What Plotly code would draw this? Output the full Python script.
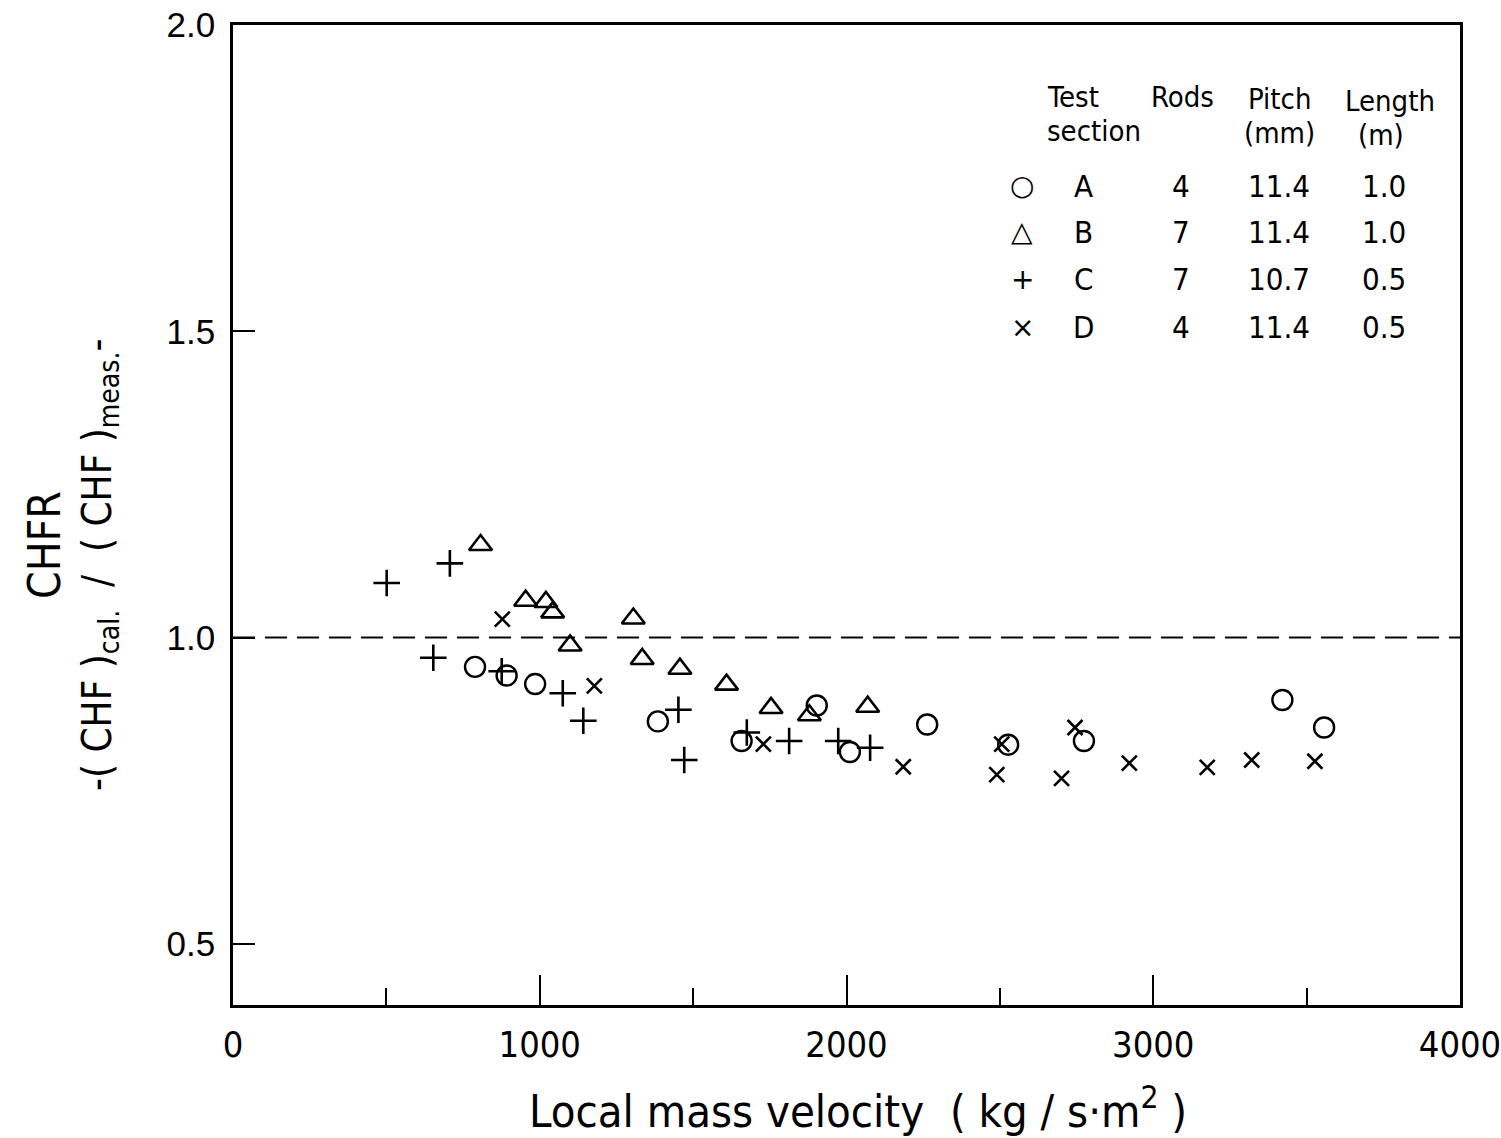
import plotly.graph_objects as go

# Local mass velocity (kg/s m^2) and CHF ratio per test section
a_mass = [789, 892, 985, 1385, 1658, 1903, 2011, 2263, 2527, 2774, 3421, 3557]
a_chfr = [0.952, 0.938, 0.924, 0.863, 0.831, 0.889, 0.813, 0.858, 0.825, 0.831, 0.898, 0.853]

b_mass = [807, 954, 1020, 1042, 1099, 1305, 1334, 1457, 1609, 1754, 1879, 2069]
b_chfr = [1.151, 1.060, 1.058, 1.041, 0.987, 1.031, 0.965, 0.949, 0.923, 0.885, 0.873, 0.887]

c_mass = [501, 707, 653, 876, 1075, 1142, 1452, 1471, 1675, 1813, 1973, 2077]
c_chfr = [1.089, 1.121, 0.967, 0.945, 0.909, 0.864, 0.882, 0.800, 0.845, 0.831, 0.831, 0.820]

d_mass = [878, 1178, 1729, 2185, 2490, 2506, 2701, 2745, 2922, 3176, 3321, 3527]
d_chfr = [1.030, 0.921, 0.826, 0.789, 0.776, 0.826, 0.770, 0.853, 0.795, 0.788, 0.800, 0.798]

ref_mass = [0, 4000]
ref_chfr = [1.0, 1.0]

# Key table
key_symbols = ["○", "△", "+", "×"]
key_sections = ["A", "B", "C", "D"]
key_rods = ["4", "7", "7", "4"]
key_pitch = ["11.4", "11.4", "10.7", "11.4"]
key_length = ["1.0", "1.0", "0.5", "0.5"]

NARROW = "DejaVu Sans Condensed, Liberation Sans Narrow, Roboto Condensed, Liberation Sans, sans-serif"
PLAIN = "Liberation Sans, Arial, sans-serif"
INK = "black"

fig = go.Figure()

fig.add_trace(go.Scatter(
    x=ref_mass, y=ref_chfr, mode="lines",
    line=dict(color=INK, width=2.2, dash="22px,10px"),
    showlegend=False, hoverinfo="skip"))

series = [
    (a_mass, a_chfr, "circle-open", 20, 2.4),
    (b_mass, b_chfr, "triangle-up-open", 20, 2.6),
    (c_mass, c_chfr, "cross-thin-open", 19, 2.6),
    (d_mass, d_chfr, "x-thin-open", 15, 2.6),
]
for xs, ys, sym, size, lw in series:
    fig.add_trace(go.Scatter(
        x=xs, y=ys, mode="markers",
        marker=dict(symbol=sym, size=size, color=INK,
                    line=dict(color=INK, width=lw)),
        showlegend=False))

annotations = []

def txt(x, y, s, size=30, xanchor="center", font=NARROW, angle=0):
    annotations.append(dict(
        x=x, y=y, xref="paper", yref="paper", text=s, showarrow=False,
        xanchor=xanchor, yanchor="middle", textangle=angle,
        font=dict(family=font, size=size, color=INK)))

# convert page pixels to paper fractions of the plot area
L, R, T, B = 233, 1460, 25, 1005
def px(xp):
    return (xp - L) / (R - L)
def py(yp):
    return (B - yp) / (B - T)

# key header
txt(px(1045), py(97), "Test", xanchor="left", size=29)
txt(px(1045), py(131), "section", xanchor="left", size=29)
txt(px(1182), py(97), "Rods", size=29)
txt(px(1279), py(99), "Pitch", size=29)
txt(px(1279), py(133), "(mm)", size=29)
txt(px(1390), py(101), "Length", size=29)
txt(px(1381), py(135), "(m)", size=29)

row_y = [186, 232, 279, 327]
for i in range(4):
    txt(px(1022), py(row_y[i]), key_symbols[i], size=28, font="DejaVu Sans")
    txt(px(1083), py(row_y[i]), key_sections[i], size=31)
    txt(px(1181), py(row_y[i]), key_rods[i], size=31)
    txt(px(1279), py(row_y[i]), key_pitch[i], size=31)
    txt(px(1384), py(row_y[i]), key_length[i], size=31)

# axis titles
txt(px(45), py(545), "CHFR", size=44, angle=-90)
txt(px(100), py(565),
    "-( CHF )<sub>cal.</sub>  /  ( CHF )<sub>meas.</sub>-", size=40, angle=-90)
txt(px(858), py(1108),
    "Local mass velocity  ( kg / s·m<sup>2</sup> )", size=45)

fig.update_layout(
    width=1501, height=1138,
    margin=dict(l=L, r=1501 - R, t=T, b=1138 - B, autoexpand=False),
    paper_bgcolor="white", plot_bgcolor="white",
    annotations=annotations,
    xaxis=dict(
        range=[0, 4000], tickvals=[0, 1000, 2000, 3000, 4000],
        ticks="inside", ticklen=30, tickwidth=1.8, tickcolor=INK,
        minor=dict(tickvals=[500, 1500, 2500, 3500], ticks="inside",
                   ticklen=17, tickwidth=1.8, tickcolor=INK),
        showline=True, linecolor=INK, linewidth=2.6, mirror=True,
        showgrid=False, zeroline=False, automargin=False,
        tickfont=dict(family=NARROW, size=36, color=INK),
        ticklabeloverflow="allow", ticklabelstandoff=6),
    yaxis=dict(
        range=[0.4, 2.0], tickvals=[0.5, 1.0, 1.5, 2.0],
        ticktext=["0.5", "1.0", "1.5", "2.0"],
        ticks="inside", ticklen=22, tickwidth=1.8, tickcolor=INK,
        showline=True, linecolor=INK, linewidth=2.6, mirror=True,
        showgrid=False, zeroline=False, automargin=False,
        tickfont=dict(family=PLAIN, size=35, color=INK),
        ticklabeloverflow="allow", ticklabelstandoff=8),
)

fig.write_html("out.html")
